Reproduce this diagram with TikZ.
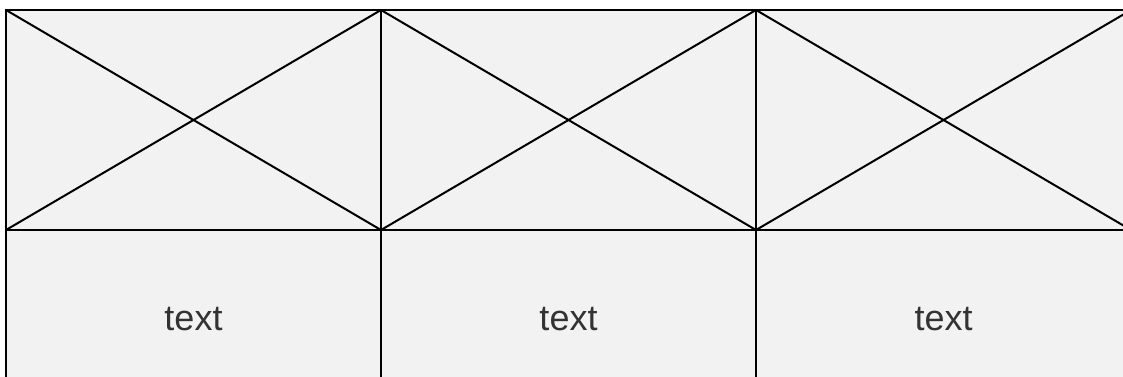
\documentclass[tikz,border=0pt]{standalone}
\usepackage{fontspec}
\setmainfont{Liberation Sans}
\usetikzlibrary{positioning}
\definecolor{cellgray}{HTML}{F2F2F2}
\definecolor{textgray}{HTML}{333333}

\begin{document}
\begin{tikzpicture}[x=1pt,y=-1pt,
  gridline/.style={draw=black, line width=2pt},
  celltext/.style={text=textgray, font=\fontsize{36}{40}\selectfont, inner sep=0pt}]
\useasboundingbox (0,0) rectangle (1123,377);
\clip (0,0) rectangle (1123,377);
% background of the strip
\fill[cellgray] (6,10) rectangle (1140,420);
% image placeholders with crosses
\foreach \i in {0,1,2} {
  \draw[gridline] ({6+375*\i},10) rectangle ({381+375*\i},230);
  \draw[gridline] ({6+375*\i},10) -- ({381+375*\i},230);
  \draw[gridline] ({6+375*\i},230) -- ({381+375*\i},10);
  % caption cell
  \draw[gridline] ({6+375*\i},230) rectangle ({381+375*\i},420);
}
% captions
\node[celltext] (capA) at (193.5,319) {text};
\node[celltext] (capB) at (568.5,319) {text};
\node[celltext] (capC) at (943.5,319) {text};
\end{tikzpicture}
\end{document}
